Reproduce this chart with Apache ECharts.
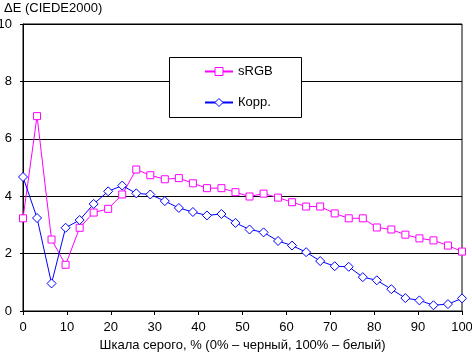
<!DOCTYPE html>
<html>
<head>
<meta charset="utf-8">
<script src="https://cdn.jsdelivr.net/npm/echarts@6/dist/echarts.min.js"></script>
<style>
  html, body { margin: 0; padding: 0; background: #fff; }
  #chart { width: 472px; height: 353px; }
</style>
</head>
<body>
<div id="chart"></div>
<script>
// шкала серого, %
var grayLevels = [0, 3.2, 6.5, 9.7, 12.9, 16.1, 19.4, 22.6, 25.8, 29.0, 32.3, 35.5,
  38.7, 41.9, 45.2, 48.4, 51.6, 54.8, 58.1, 61.3, 64.5, 67.7, 71.0, 74.2,
  77.4, 80.6, 83.9, 87.1, 90.3, 93.5, 96.8, 100];

var srgbValues = [3.23, 6.79, 2.49, 1.61, 2.90, 3.43, 3.56, 4.06, 4.93, 4.73, 4.59, 4.63,
  4.45, 4.28, 4.28, 4.14, 3.99, 4.09, 3.95, 3.79, 3.64, 3.64, 3.40, 3.23,
  3.23, 2.91, 2.84, 2.66, 2.53, 2.46, 2.28, 2.07];

var korrValues = [4.67, 3.24, 0.96, 2.90, 3.17, 3.73, 4.17, 4.37, 4.10, 4.06, 3.83, 3.59,
  3.45, 3.33, 3.38, 3.07, 2.84, 2.74, 2.44, 2.28, 2.05, 1.74, 1.56, 1.54,
  1.18, 1.07, 0.76, 0.45, 0.37, 0.20, 0.24, 0.44];

var seriesNames = ['sRGB', 'Корр.'];

function pairs(xs, ys) {
  var out = [];
  for (var i = 0; i < xs.length; i++) {
    out.push([xs[i], ys[i]]);
  }
  return out;
}

var font = 'Liberation Sans, Arial, sans-serif';

var option = {
  backgroundColor: '#ffffff',
  animation: false,
  title: {
    text: 'ΔE (CIEDE2000)',
    left: -1,
    top: -3,
    textStyle: { fontFamily: font, fontSize: 13, fontWeight: 'normal', color: '#000' }
  },
  grid: {
    left: 23,
    right: 10,
    top: 24,
    bottom: 42,
    outerBoundsMode: 'none',
    containLabel: false,
    show: true,
    borderColor: '#000',
    borderWidth: 1
  },
  // рамка легенды
  graphic: [{
    type: 'rect',
    z: 10,
    shape: { x: 169.5, y: 57.5, width: 132, height: 60 },
    style: { fill: '#fff', stroke: '#000', lineWidth: 1 }
  }],
  legend: {
    orient: 'vertical',
    left: 204,
    top: 65,
    z: 20,
    data: seriesNames,
    itemWidth: 28,
    itemHeight: 10,
    itemGap: 18,
    padding: 0,
    itemStyle: { color: '#ffffff', borderWidth: 1 },
    textStyle: { fontFamily: font, fontSize: 13, color: '#000' }
  },
  xAxis: {
    type: 'value',
    min: 0,
    max: 100,
    interval: 10,
    name: 'Шкала серого, % (0% – черный, 100% – белый)',
    nameLocation: 'middle',
    nameGap: 25,
    nameTextStyle: { fontFamily: font, fontSize: 13, color: '#000' },
    axisLine: { lineStyle: { color: '#000' } },
    axisTick: { inside: false, length: 4, lineStyle: { color: '#000' } },
    axisLabel: { margin: 10, fontFamily: font, fontSize: 13, color: '#000' },
    splitLine: { show: false }
  },
  yAxis: {
    type: 'value',
    min: 0,
    max: 10,
    interval: 2,
    axisLine: { show: true, lineStyle: { color: '#000' } },
    axisTick: { show: true, length: 3, lineStyle: { color: '#000' } },
    axisLabel: { margin: 11, fontFamily: font, fontSize: 13, color: '#000' },
    splitLine: { show: true, lineStyle: { color: '#000', width: 1 } }
  },
  series: [
    {
      name: seriesNames[0],
      type: 'line',
      data: pairs(grayLevels, srgbValues),
      symbol: 'rect',
      symbolSize: 7,
      showAllSymbol: true,
      lineStyle: { color: '#ff00ff', width: 1 },
      itemStyle: { color: '#ffffff', borderColor: '#ff00ff', borderWidth: 1 }
    },
    {
      name: seriesNames[1],
      type: 'line',
      data: pairs(grayLevels, korrValues),
      symbol: 'diamond',
      symbolSize: 9,
      showAllSymbol: true,
      lineStyle: { color: '#0000ff', width: 1 },
      itemStyle: { color: '#ffffff', borderColor: '#0000ff', borderWidth: 1 }
    }
  ]
};

var myChart = echarts.init(document.getElementById('chart'));
myChart.setOption(option);
</script>
</body>
</html>
